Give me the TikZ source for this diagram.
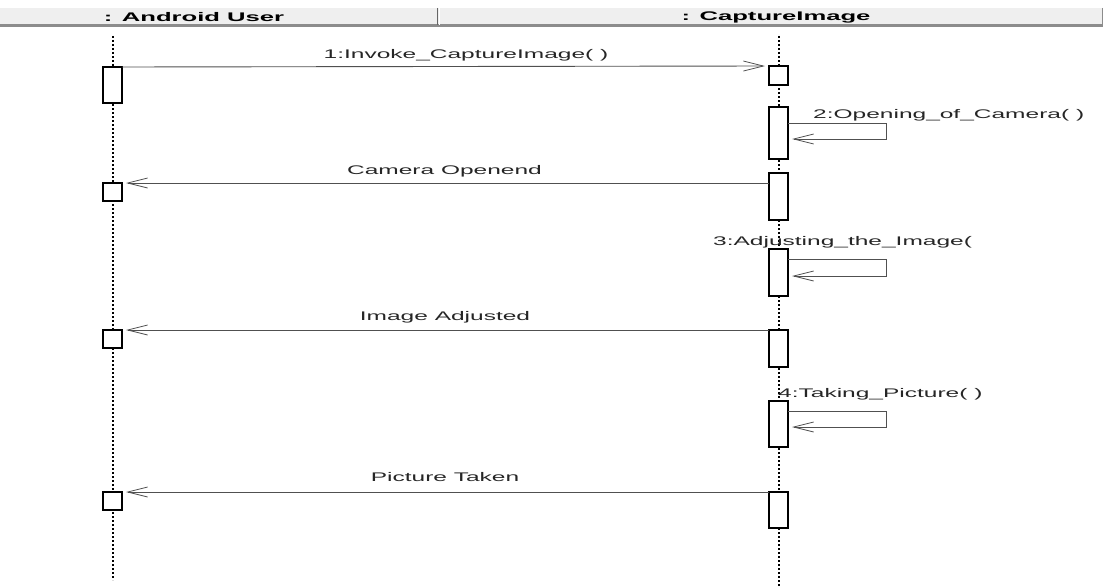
\documentclass[tikz,border=0pt]{standalone}
\usepackage{fontspec}
\usetikzlibrary{arrows.meta}
\newfontfamily\lblfont[FakeStretch=1.96]{Liberation Sans}
\newfontfamily\hdrfont[FakeStretch=2.05]{Liberation Sans}
\definecolor{hdrbg}{HTML}{EFEFEF}
\definecolor{hdrline}{HTML}{8C8C8C}
\definecolor{msgline}{HTML}{505050}
\begin{document}
\begin{tikzpicture}[x=1pt,y=-1pt,
  lifeline/.style={line width=2pt, dash pattern=on 2pt off 2pt, black},
  act/.style={draw=black, line width=1.1pt, fill=white, minimum width=19pt, inner sep=0pt, outer sep=0pt},
  msg/.style={draw=msgline, line width=0.9pt, -{Straight Barb[length=20pt,width=10pt,line width=0.8pt]}, shorten >=4pt},
  lbl/.style={inner sep=0pt, anchor=base, font=\lblfont\fontsize{12.5}{14}\selectfont, text=black!85},
  hdr/.style={inner sep=0pt, font=\hdrfont\bfseries\fontsize{12.5}{14}\selectfont}]
\useasboundingbox (0,0) rectangle (1105,586);

% header bar
\fill[hdrbg] (0,8) rectangle (1103,24);
\fill[hdrline] (0,24) rectangle (1103,27);
\draw[hdrline, line width=1pt] (1102.5,8) -- (1102.5,27);
\draw[black!60, line width=1pt] (437.5,8) -- (437.5,25);
\draw[white, line width=1pt] (439,8) -- (439,25);
\node[hdr] (hA) at (194,17) {: Android User};
\node[hdr] (hC) at (776,17) {: CaptureImage};

% lifelines
\coordinate (uTop) at (113,36);
\coordinate (uBot) at (113,580);
\coordinate (cTop) at (779,36);
\coordinate (cBot) at (779,586);
\draw[lifeline] (uTop) -- (uBot);
\draw[lifeline] (cTop) -- (cBot);

% activation bars on the user lifeline
\node[act, minimum height=36pt, anchor=north] (L1) at (112.5,67) {};
\node[act, minimum height=18pt, anchor=north] (L2) at (112.5,183) {};
\node[act, minimum height=18pt, anchor=north] (L3) at (112.5,330) {};
\node[act, minimum height=18pt, anchor=north] (L4) at (112.5,492) {};

% activation bars on the CaptureImage lifeline
\node[act, minimum height=19pt, anchor=north] (R1) at (778.5,66) {};
\node[act, minimum height=52pt, anchor=north] (R2) at (778.5,107) {};
\node[act, minimum height=47pt, anchor=north] (R3) at (778.5,173) {};
\node[act, minimum height=47pt, anchor=north] (R4) at (778.5,249) {};
\node[act, minimum height=37pt, anchor=north] (R5) at (778.5,330) {};
\node[act, minimum height=46pt, anchor=north] (R6) at (778.5,401) {};
\node[act, minimum height=36pt, anchor=north] (R7) at (778.5,492) {};

% 1: call
\draw[msg] (L1.north east) -- (R1.north west);
\node[lbl] (m1) at (466,59) {1:Invoke\_CaptureImage( )};

% 2: self call
\coordinate (s2a) at (886,123);
\coordinate (s2b) at (886,139);
\draw[msg] (R2.east |- s2a) -- (s2a) -- (s2b) -- (R2.east |- s2b);
\node[lbl, anchor=base west] (m2) at (813,118) {2:Opening\_of\_Camera( )};

% reply
\draw[msg] (R3.west |- L2.north) -- (L2.north east);
\node[lbl] (r1) at (444.5,174) {Camera Openend};

% 3: self call
\coordinate (s3a) at (886,259);
\coordinate (s3b) at (886,276);
\draw[msg] (R4.east |- s3a) -- (s3a) -- (s3b) -- (R4.east |- s3b);
\node[lbl, anchor=base west] (m3) at (713,245) {3:Adjusting\_the\_Image(};

% reply
\draw[msg] (R5.north west) -- (L3.north east);
\node[lbl] (r2) at (445,320) {Image Adjusted};

% 4: self call
\coordinate (s4a) at (886,411);
\coordinate (s4b) at (886,427);
\draw[msg] (R6.east |- s4a) -- (s4a) -- (s4b) -- (R6.east |- s4b);
\node[lbl, anchor=base west] (m4) at (778,397) {4:Taking\_Picture( )};

% reply
\draw[msg] (R7.north west) -- (L4.north east);
\node[lbl] (r3) at (445,481) {Picture Taken};
\end{tikzpicture}
\end{document}
